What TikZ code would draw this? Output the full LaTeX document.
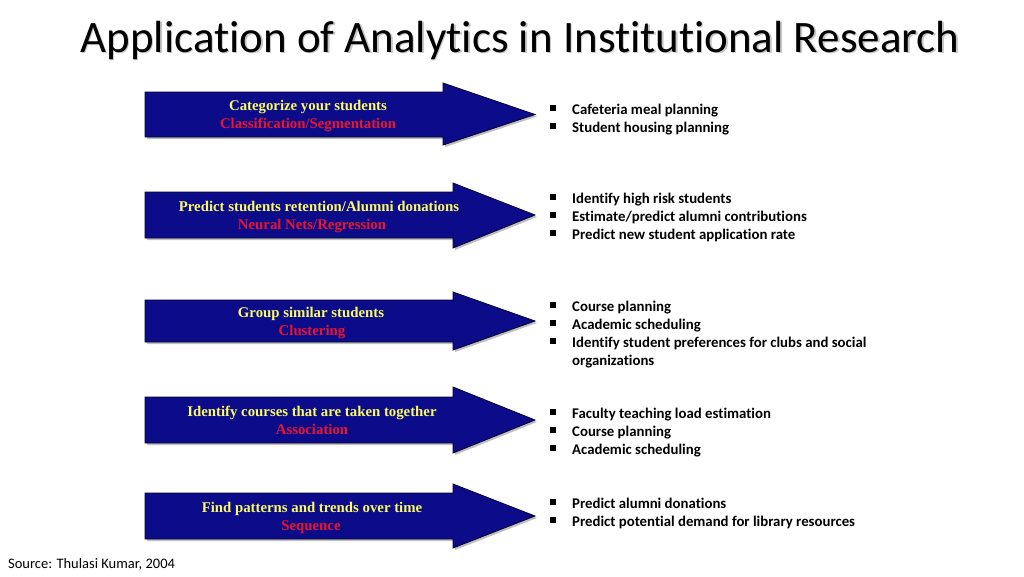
\documentclass[tikz,border=0pt]{standalone}
\usepackage{fontspec}
\setmainfont{Carlito}[Ligatures=NoCommon]
\newfontfamily\boxfont{Liberation Serif}
\definecolor{navy}{RGB}{12,12,138}
\definecolor{ylw}{RGB}{250,250,100}
\definecolor{rd}{RGB}{235,20,45}
\tikzset{
  arrowshape/.style={fill=navy, draw=black!70!navy, line width=0.8pt},
  arrowshadow/.style={fill=black!25, draw=none},
  topline/.style={font=\boxfont\bfseries\fontsize{14.8}{16}\selectfont, text=ylw, anchor=base, inner sep=0pt},
  botline/.style={font=\boxfont\bfseries\fontsize{14.8}{16}\selectfont, text=rd, anchor=base, inner sep=0pt},
  item/.style={font=\bfseries\fontsize{14.8}{16}\selectfont, anchor=base west, inner sep=0pt},
  bullet/.style={fill=black, minimum size=6pt, inner sep=0pt},
}
\newcommand{\bigarrow}[5]{% top bottom headtop headbottom headbase
  \fill[arrowshadow] (147,#1+2) -- (#5+2,#1+2) -- (#5+2,#3+2) -- (537,{(#1+#2)/2+2}) -- (#5+2,#4+2) -- (#5+2,#2+2) -- (147,#2+2) -- cycle;
  \draw[arrowshape] (145,#1) -- (#5,#1) -- (#5,#3) -- (535,{(#1+#2)/2}) -- (#5,#4) -- (#5,#2) -- (145,#2) -- cycle;
}
\begin{document}
\begin{tikzpicture}[x=1pt,y=-1pt]
\useasboundingbox (0,0) rectangle (1024,576);
% title
\node[font=\fontsize{45}{50}\selectfont, text=black!22, anchor=base, inner sep=0pt] (titleshadow) at (521.5,53.5) {Application of Analytics in Institutional Research};
\node[font=\fontsize{45}{50}\selectfont, anchor=base, inner sep=0pt] (title) at (520,52) {Application of Analytics in Institutional Research};

% arrows
\bigarrow{92}{137}{83}{145}{443}
\bigarrow{192}{238}{183}{248}{453}
\bigarrow{300}{342}{292}{350}{453}
\bigarrow{397}{443}{387}{453}{453}
\bigarrow{493}{539}{484}{548}{453}

% arrow texts
\node[topline] (a1t) at (308,110) {Categorize your students};
\node[botline] (a1b) at (308,128) {Classification/Segmentation};
\node[topline] (a2t) at (319,211) {Predict students retention/Alumni donations};
\node[botline] (a2b) at (312,229) {Neural Nets/Regression};
\node[topline] (a3t) at (311,317) {Group similar students};
\node[botline] (a3b) at (312,335) {Clustering};
\node[topline] (a4t) at (312,416) {Identify courses that are taken together};
\node[botline] (a4b) at (312,434) {Association};
\node[topline] (a5t) at (312,512) {Find patterns and trends over time};
\node[botline] (a5b) at (311,530) {Sequence};

% bullet lists
\foreach \y/\t [count=\i] in {
  109/Cafeteria meal planning,
  127/Student housing planning,
  198/Identify high risk students,
  216/Estimate\slash predict alumni contributions,
  234/Predict new student application rate,
  306/Course planning,
  324/Academic scheduling,
  342/Identify student preferences for clubs and social,
  413/Faculty teaching load estimation,
  431/Course planning,
  449/Academic scheduling,
  503/Predict alumni donations,
  521/Predict potential demand for library resources}{
  \node[bullet] (b\i) at (552.5,\y-1.5) {};
  \node[item] (t\i) at (572,\y+5) {\t};
}
\node[item] (t14) at (572,365) {organizations};

% source
\node[font=\fontsize{14.5}{16}\selectfont, anchor=base west, inner sep=0pt] (src) at (8,568) {Source: Thulasi Kumar, 2004};
\end{tikzpicture}
\end{document}
